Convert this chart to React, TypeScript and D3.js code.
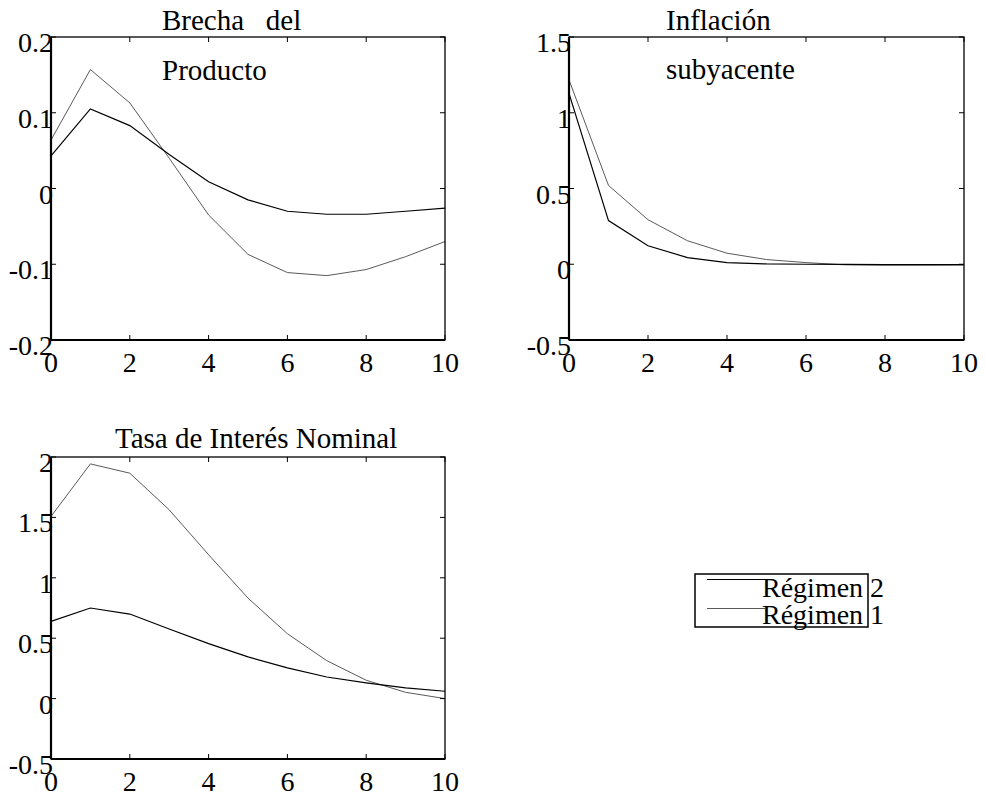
import { useRef, useEffect } from "react";
import * as d3 from "d3";

// periodos 0..10
const periods = [0, 1, 2, 3, 4, 5, 6, 7, 8, 9, 10];

// Brecha del Producto
const brechaReg2 = [0.043, 0.105, 0.083, 0.045, 0.009, -0.015, -0.03, -0.034, -0.034, -0.03, -0.026];
const brechaReg1 = [0.064, 0.157, 0.113, 0.04, -0.035, -0.087, -0.111, -0.115, -0.107, -0.09, -0.07];

// Inflación subyacente
const inflReg2 = [1.128, 0.288, 0.122, 0.044, 0.011, 0.002, 0.0, -0.001, -0.002, -0.002, -0.002];
const inflReg1 = [1.217, 0.52, 0.294, 0.155, 0.073, 0.031, 0.011, -0.004, -0.006, -0.006, -0.005];

// Tasa de Interés Nominal
const tasaReg2 = [0.639, 0.75, 0.7, 0.576, 0.455, 0.345, 0.254, 0.179, 0.13, 0.088, 0.061];
const tasaReg1 = [1.508, 1.943, 1.866, 1.563, 1.191, 0.832, 0.537, 0.314, 0.152, 0.052, 0.0];

const xTicks = [0, 2, 4, 6, 8, 10];
const brechaTicks = [-0.2, -0.1, 0, 0.1, 0.2];
const brechaLabels = ["-0.2", "-0.1", "0", "0.1", "0.2"];
const inflTicks = [-0.5, 0, 0.5, 1, 1.5];
const inflLabels = ["-0.5", "0", "0.5", "1", "1.5"];
const tasaTicks = [-0.5, 0, 0.5, 1, 1.5, 2];
const tasaLabels = ["-0.5", "0", "0.5", "1", "1.5", "2"];

const legendNames = ["Régimen 2", "Régimen 1"];
const REG2 = "#000000";
const REG1 = "#5a5a5a";
const FONT = "'Liberation Serif', 'Times New Roman', serif";

const App = () => {
  const svgRef = useRef<SVGSVGElement>(null);

  useEffect(() => {
    const svg = d3.select(svgRef.current);
    svg.selectAll("*").remove();

    const panel = (
      box: { x0: number; x1: number; y0: number; y1: number },
      yDomain: [number, number],
      yTicks: number[],
      yLabels: string[],
      s2: number[],
      s1: number[],
      titles: { text: string; x: number; y: number }[]
    ) => {
      const x = d3.scaleLinear().domain([0, 10]).range([box.x0, box.x1]);
      const y = d3.scaleLinear().domain(yDomain).range([box.y1, box.y0]);
      const g = svg.append("g");

      const line = d3
        .line<number>()
        .x((_, i) => x(periods[i]))
        .y((d) => y(d));

      g.append("path").attr("d", line(s1)).attr("fill", "none").attr("stroke", REG1).attr("stroke-width", 1);
      g.append("path").attr("d", line(s2)).attr("fill", "none").attr("stroke", REG2).attr("stroke-width", 1.2);

      // frame
      g.append("rect")
        .attr("x", box.x0)
        .attr("y", box.y0)
        .attr("width", box.x1 - box.x0)
        .attr("height", box.y1 - box.y0)
        .attr("fill", "none")
        .attr("stroke", "#000")
        .attr("stroke-width", 1.3);
      g.append("line").attr("x1", box.x0).attr("x2", box.x0).attr("y1", box.y0).attr("y2", box.y1).attr("stroke", "#000").attr("stroke-width", 2.2);
      g.append("line").attr("x1", box.x0).attr("x2", box.x1).attr("y1", box.y1).attr("y2", box.y1).attr("stroke", "#000").attr("stroke-width", 2);

      const tl = 5;
      xTicks.forEach((t) => {
        g.append("line").attr("x1", x(t)).attr("x2", x(t)).attr("y1", box.y1).attr("y2", box.y1 - tl).attr("stroke", "#000");
        g.append("line").attr("x1", x(t)).attr("x2", x(t)).attr("y1", box.y0).attr("y2", box.y0 + tl).attr("stroke", "#000");
        g.append("text")
          .attr("x", x(t))
          .attr("y", box.y1 + 32)
          .attr("text-anchor", "middle")
          .style("font-family", FONT)
          .style("font-size", "28px")
          .text(String(t));
      });
      yTicks.forEach((t, i) => {
        g.append("line").attr("x1", box.x0).attr("x2", box.x0 + tl).attr("y1", y(t)).attr("y2", y(t)).attr("stroke", "#000");
        g.append("line").attr("x1", box.x1).attr("x2", box.x1 - tl).attr("y1", y(t)).attr("y2", y(t)).attr("stroke", "#000");
        g.append("text")
          .attr("x", box.x0 + 2)
          .attr("y", y(t) + 15)
          .attr("text-anchor", "end")
          .style("font-family", FONT)
          .style("font-size", "28px")
          .text(yLabels[i]);
      });

      titles.forEach((t) => {
        g.append("text")
          .attr("x", t.x)
          .attr("y", t.y)
          .attr("xml:space", "preserve")
          .style("white-space", "pre")
          .style("font-family", FONT)
          .style("font-size", "29px")
          .text(t.text);
      });
    };

    panel({ x0: 51, x1: 445, y0: 37, y1: 340 }, [-0.2, 0.2], brechaTicks, brechaLabels, brechaReg2, brechaReg1, [
      { text: "Brecha   del", x: 162, y: 30 },
      { text: "Producto", x: 162, y: 80 },
    ]);
    panel({ x0: 569, x1: 964, y0: 37, y1: 340 }, [-0.5, 1.5], inflTicks, inflLabels, inflReg2, inflReg1, [
      { text: "Inflación", x: 666, y: 30 },
      { text: "subyacente", x: 666, y: 79 },
    ]);
    panel({ x0: 51, x1: 445, y0: 457, y1: 759 }, [-0.5, 2], tasaTicks, tasaLabels, tasaReg2, tasaReg1, [
      { text: "Tasa de Interés Nominal", x: 115, y: 448 },
    ]);

    // legend
    const lg = svg.append("g");
    lg.append("rect")
      .attr("x", 695)
      .attr("y", 574)
      .attr("width", 173)
      .attr("height", 53)
      .attr("fill", "#fff")
      .attr("stroke", "#000")
      .attr("stroke-width", 1.5);
    legendNames.forEach((name, i) => {
      lg.append("line")
        .attr("x1", 707)
        .attr("x2", 765)
        .attr("y1", 579.5 + i * 29)
        .attr("y2", 579.5 + i * 29)
        .attr("stroke", i === 0 ? REG2 : REG1)
        .attr("stroke-width", 1);
      lg.append("text")
        .attr("x", 762)
        .attr("y", 597 + i * 26.5)
        .style("font-family", FONT)
        .style("font-size", "28px")
        .text(name);
    });
  }, []);

  return <svg ref={svgRef} width={986} height={794} style={{ position: "absolute", left: 0, top: 0, background: "#fff" }} />;
};

export default App;
